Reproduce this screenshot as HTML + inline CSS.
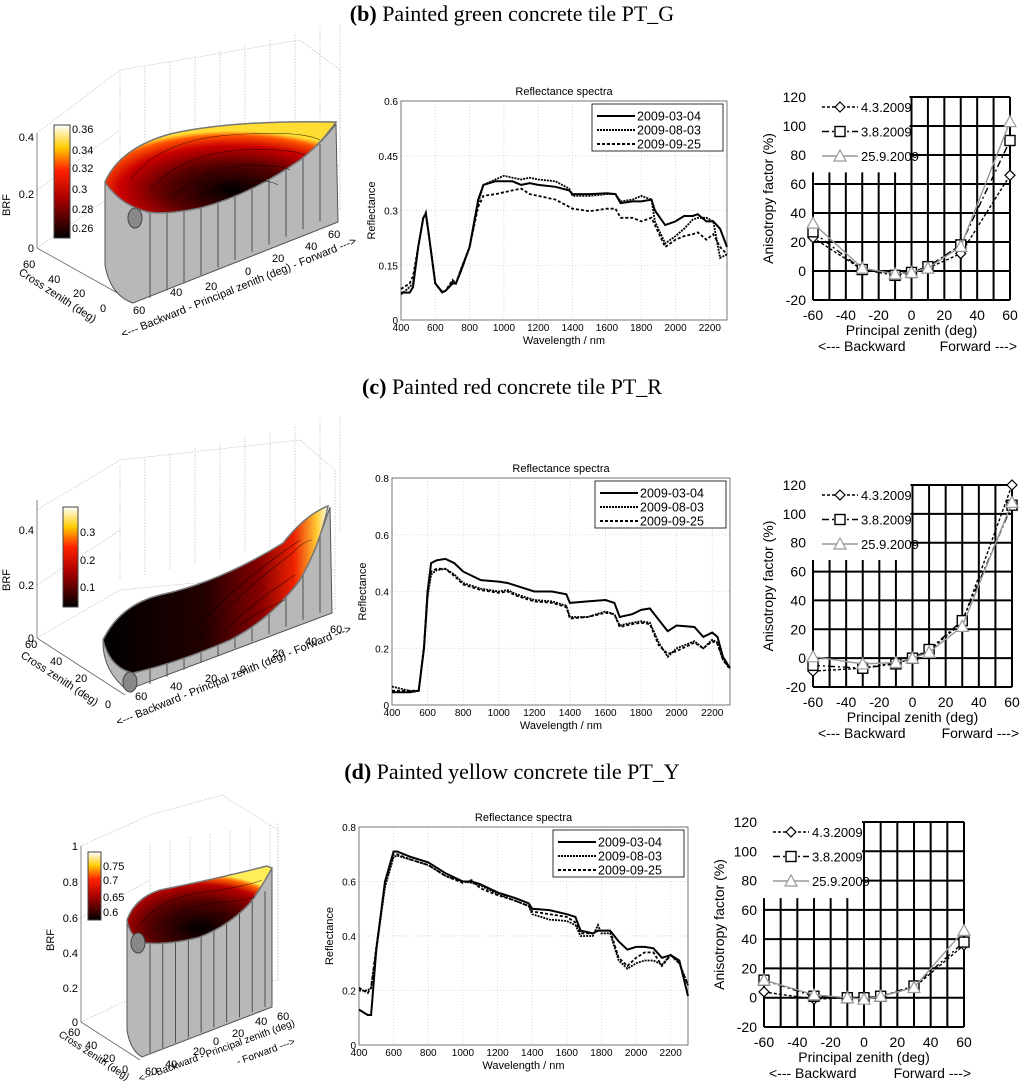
<!DOCTYPE html>
<html><head><meta charset="utf-8"><style>
body{margin:0;background:#fff;}
svg{display:block;font-family:"Liberation Sans",sans-serif;}
.ttl{font-family:"Liberation Serif",serif;font-size:22px;}
</style></head><body>
<svg id="fig" width="1024" height="1090" viewBox="0 0 1024 1090" xmlns="http://www.w3.org/2000/svg">
<defs>
<radialGradient id="gb" cx="0.55" cy="0.75" r="0.65"><stop offset="0" stop-color="#000"/><stop offset="0.45" stop-color="#5a0000"/><stop offset="0.75" stop-color="#c00"/><stop offset="0.92" stop-color="#f50"/><stop offset="1" stop-color="#fd3"/></radialGradient>
<linearGradient id="gc" x1="0" y1="0" x2="1" y2="0"><stop offset="0" stop-color="#000"/><stop offset="0.45" stop-color="#200"/><stop offset="0.7" stop-color="#800"/><stop offset="0.85" stop-color="#e20"/><stop offset="0.95" stop-color="#fc3"/><stop offset="1" stop-color="#ffe"/></linearGradient>
<radialGradient id="gd" cx="0.5" cy="0.8" r="0.7"><stop offset="0" stop-color="#000"/><stop offset="0.5" stop-color="#500"/><stop offset="0.8" stop-color="#b00"/><stop offset="0.93" stop-color="#f60"/><stop offset="1" stop-color="#fe5"/></radialGradient>
<linearGradient id="cbar" x1="0" y1="1" x2="0" y2="0"><stop offset="0" stop-color="#000"/><stop offset="0.35" stop-color="#a00"/><stop offset="0.6" stop-color="#f20"/><stop offset="0.8" stop-color="#fc0"/><stop offset="1" stop-color="#fff"/></linearGradient>
</defs>
<text class="ttl" x="512" y="21" text-anchor="middle"><tspan font-weight="bold">(b)</tspan> Painted green concrete tile PT_G</text>
<text class="ttl" x="512" y="394" text-anchor="middle"><tspan font-weight="bold">(c)</tspan> Painted red concrete tile PT_R</text>
<text class="ttl" x="512" y="779" text-anchor="middle"><tspan font-weight="bold">(d)</tspan> Painted yellow concrete tile PT_Y</text>
<g id="g3d"></g>
<g id="gspec"></g>
<g id="ganis"></g>
</svg>
<script>
// ---------- spectra data ----------
const wlB=[400,450,470,500,530,545,560,600,640,660,700,720,750,800,850,880,950,1000,1050,1100,1150,1200,1300,1380,1400,1500,1600,1650,1680,1750,1800,1860,1880,1940,2000,2050,2100,2130,2180,2220,2260,2300];
const specB1=[.075,.075,.09,.2,.28,.29,.24,.1,.077,.08,.1,.1,.135,.2,.33,.37,.38,.38,.38,.37,.375,.37,.365,.355,.345,.345,.347,.345,.32,.325,.325,.33,.3,.26,.27,.285,.285,.29,.27,.27,.25,.2];
const specB2=[.07,.09,.1,.2,.28,.295,.24,.1,.075,.08,.105,.1,.14,.2,.32,.37,.385,.395,.39,.385,.39,.385,.38,.36,.34,.34,.345,.345,.325,.33,.34,.33,.27,.21,.23,.25,.275,.28,.28,.27,.17,.18];
const specB3=[.085,.1,.12,.2,.28,.29,.24,.1,.075,.08,.11,.1,.14,.2,.31,.34,.345,.35,.355,.36,.345,.34,.33,.31,.305,.298,.305,.305,.28,.28,.27,.28,.26,.2,.22,.23,.235,.24,.22,.235,.2,.18];
const wlC=[400,500,550,580,600,620,650,700,750,800,900,1000,1050,1100,1200,1300,1380,1400,1500,1600,1650,1680,1750,1800,1850,1900,1950,2000,2100,2150,2200,2230,2260,2300];
const specC1=[.045,.045,.05,.2,.4,.5,.51,.515,.5,.47,.44,.435,.43,.42,.4,.4,.39,.36,.365,.37,.36,.31,.32,.335,.34,.3,.26,.28,.275,.24,.255,.24,.17,.13];
const specC2=[.065,.05,.05,.2,.38,.46,.475,.48,.46,.43,.41,.4,.405,.39,.37,.365,.35,.31,.31,.33,.32,.28,.29,.295,.29,.22,.17,.2,.225,.2,.23,.22,.16,.13];
const specC3=[.05,.05,.05,.21,.4,.47,.48,.48,.455,.425,.405,.395,.4,.385,.365,.36,.345,.305,.31,.325,.32,.275,.285,.29,.285,.21,.18,.19,.22,.2,.225,.215,.16,.125];
const wlD=[400,450,470,500,550,600,620,700,800,900,1000,1050,1100,1200,1300,1380,1400,1500,1600,1650,1680,1750,1780,1800,1850,1900,1950,2000,2050,2100,2150,2200,2250,2300];
const specD1=[.13,.11,.11,.35,.6,.71,.71,.69,.67,.63,.6,.6,.59,.56,.54,.52,.5,.495,.48,.47,.42,.41,.42,.42,.42,.38,.35,.36,.36,.355,.32,.33,.31,.18];
const specD2=[.2,.2,.21,.35,.58,.69,.695,.68,.66,.62,.6,.595,.585,.555,.53,.51,.48,.46,.455,.44,.4,.4,.44,.41,.41,.31,.28,.3,.31,.31,.295,.33,.3,.22];
const specD3=[.21,.19,.21,.36,.59,.7,.7,.68,.66,.62,.595,.605,.575,.55,.53,.51,.49,.48,.47,.45,.41,.41,.42,.42,.42,.32,.29,.32,.34,.34,.29,.33,.3,.22];
const specLegend=["2009-03-04","2009-08-03","2009-09-25"];
const wlTicks=[400,600,800,1000,1200,1400,1600,1800,2000,2200];
const yTicksB=[0,0.15,0.3,0.45,0.6];
const yTicksC=[0,0.2,0.4,0.6,0.8];
// ---------- anisotropy data ----------
const zen=[-60,-30,-10,0,10,30,60];
const anB1=[23,1,-2,0,2,12,66], anB2=[27,1,-3,-1,3,18,90], anB3=[33,2,-2,-1,2,17,103];
const anC1=[-9,-7,-3,0,5,25,120], anC2=[-5,-7,-4,0,6,26,106], anC3=[1,-4,-3,0,4,22,108];
const anD1=[4,-1,0,0,1,7,36], anD2=[12,1,0,0,1,8,38], anD3=[12,2,0,-1,1,7,46];
const anLegend=["4.3.2009","3.8.2009","25.9.2009"];
const zTicks=[-60,-40,-20,0,20,40,60];
const aTicks=[-20,0,20,40,60,80,100,120];

const NS="http://www.w3.org/2000/svg";
function mk(p,tag,at,txt){const e=document.createElementNS(NS,tag);for(const k in at)e.setAttribute(k,at[k]);if(txt!=null)e.textContent=txt;p.appendChild(e);return e;}
const fmt=v=>String(+v.toFixed(2)).replace(/^0\./,'0.');

function spectrum(key,L,R,T,B,ymax,yt,wl,series){
  const g=mk(document.getElementById('gspec'),'g',{});
  
  
  const sx=w=>L+(w-400)/(2300-400)*(R-L), sy=v=>B-v/ymax*(B-T);
  mk(g,'rect',{x:L,y:T,width:R-L,height:B-T,fill:'#fff',stroke:'none'});
  wlTicks.forEach(w=>{if(w>400)mk(g,'line',{x1:sx(w),x2:sx(w),y1:T,y2:B,stroke:'#ccc','stroke-dasharray':'1,2','stroke-width':0.7});
    const t=mk(g,'text',{x:sx(w),y:B+11,'font-size':10,'text-anchor':'middle'},w);
    });
  yt.forEach(v=>{if(v>0&&v<ymax)mk(g,'line',{x1:L,x2:R,y1:sy(v),y2:sy(v),stroke:'#ccc','stroke-dasharray':'1,2','stroke-width':0.7});
    const t=mk(g,'text',{x:L-3,y:sy(v)+4,'font-size':10,'text-anchor':'end'},fmt(v));
    });
  mk(g,'rect',{x:L,y:T,width:R-L,height:B-T,fill:'none',stroke:'#555','stroke-width':0.8});
  const dashes=['none','2,1','3,2'];
  series.forEach((s,i)=>{let d='';wl.forEach((w,j)=>{d+=(j?'L':'M')+sx(w).toFixed(1)+' '+sy(s[j]).toFixed(1);});
    const p=mk(g,'path',{d:d,fill:'none',stroke:'#000','stroke-width':i==0?2:1.8,'stroke-dasharray':dashes[i]});
    });
  const t1=mk(g,'text',{x:(L+R)/2,y:T-6,'font-size':11,'text-anchor':'middle'},'Reflectance spectra');
  
  const t2=mk(g,'text',{x:(L+R)/2,y:B+24,'font-size':11,'text-anchor':'middle'},'Wavelength / nm');
  
  const t3=mk(g,'text',{x:0,y:0,'font-size':11,'text-anchor':'middle',transform:`translate(${L-26},${(T+B)/2}) rotate(-90)`},'Reflectance');
  
  const lg=mk(g,'g',{});
  mk(lg,'rect',{x:R-135,y:T+3,width:131,height:47,fill:'#fff',stroke:'#000','stroke-width':0.8});
  specLegend.forEach((n,i)=>{const y=T+15+i*14;
    mk(lg,'line',{x1:R-130,x2:R-92,y1:y,y2:y,stroke:'#000','stroke-width':2,'stroke-dasharray':dashes[i]});
    const t=mk(lg,'text',{x:R-90,y:y+4.5,'font-size':12.5},n);});
}
spectrum('b',401,727,101,320,0.6,yTicksB,wlB,[specB1,specB2,specB3]);
spectrum('c',392,730,478,705,0.8,yTicksC,wlC,[specC1,specC2,specC3]);
spectrum('d',359,688,827,1045,0.8,yTicksC,wlD,[specD1,specD2,specD3]);

function anis(key,L,R,T,B,series){
  const g=mk(document.getElementById('ganis'),'g',{});
  
  
  const sx=z=>L+(z+60)/120*(R-L), sy=v=>B-(v+20)/140*(B-T);
  for(let z=-60;z<=60;z+=10)mk(g,'line',{x1:sx(z),x2:sx(z),y1:T,y2:B,stroke:'#000','stroke-width':2});
  for(let v=-20;v<=120;v+=20)mk(g,'line',{x1:L,x2:R,y1:sy(v),y2:sy(v),stroke:'#000','stroke-width':2});
  mk(g,'rect',{x:L-3,y:T-4,width:sx(0)-2-L+3,height:sy(68)-T+4,fill:'#fff'});
  zTicks.forEach(z=>{const t=mk(g,'text',{x:sx(z),y:B+20,'font-size':14,'text-anchor':'middle'},z);});
  aTicks.forEach(v=>{const t=mk(g,'text',{x:L-7,y:sy(v)+5,'font-size':14,'text-anchor':'end'},v);});
  const st=[{c:'#000',d:'3,2'},{c:'#000',d:'7,3,2,3'},{c:'#999',d:'none'}];
  function marker(p,i,x,y){
    if(i==0)return mk(p,'path',{d:`M${x} ${y-5}L${x+5} ${y}L${x} ${y+5}L${x-5} ${y}Z`,fill:'#fff',stroke:'#000','stroke-width':1.2});
    if(i==1)return mk(p,'rect',{x:x-5,y:y-5,width:10,height:10,fill:'#fff',stroke:'#000','stroke-width':1.4});
    return mk(p,'path',{d:`M${x} ${y-6}L${x+6} ${y+5}L${x-6} ${y+5}Z`,fill:'#fff',stroke:'#999','stroke-width':1.2});
  }
  series.forEach((s,i)=>{let d='';zen.forEach((z,j)=>{d+=(j?'L':'M')+sx(z).toFixed(1)+' '+sy(s[j]).toFixed(1);});
    const p=mk(g,'path',{d:d,fill:'none',stroke:st[i].c,'stroke-width':1.4,'stroke-dasharray':st[i].d});
    
    zen.forEach((z,j)=>{const m=marker(g,i,sx(z),sy(s[j]));});});
  const lg=mk(g,'g',{});
  anLegend.forEach((n,i)=>{const y=T+10+i*24.5;
    mk(lg,'line',{x1:L+9,x2:L+45,y1:y,y2:y,stroke:st[i].c,'stroke-width':1.4,'stroke-dasharray':st[i].d});
    marker(lg,i,L+27,y);
    const t=mk(lg,'text',{x:L+48,y:y+5,'font-size':13},n);});
  const a=mk(g,'text',{x:(L+R)/2,y:B+35,'font-size':14,'text-anchor':'middle'},'Principal zenith (deg)');
  const b1=mk(g,'text',{x:sx(-60)+5,y:B+51,'font-size':14},'<--- Backward');
  const b2=mk(g,'text',{x:sx(60)+7,y:B+51,'font-size':14,'text-anchor':'end'},'Forward --->');
  const y=mk(g,'text',{x:0,y:0,'font-size':14,'text-anchor':'middle',transform:`translate(${L-40},${(T+B)/2}) rotate(-90)`},'Anisotropy factor (%)');
}
anis('b',813,1010,97,300,[anB1,anB2,anB3]);
anis('c',813,1012,485,687,[anC1,anC2,anC3]);
anis('d',764,964,822,1027,[anD1,anD2,anD3]);

// ---------- 3D BRF plots (approximate illustrations) ----------
function plot3d(key,o){
  const g=mk(document.getElementById('g3d'),'g',{});
  
  
  o.grid.forEach(l=>mk(g,'line',{x1:l[0],y1:l[1],x2:l[2],y2:l[3],stroke:'#bbb','stroke-width':0.7,'stroke-dasharray':'1.5,1.5'}));
  o.axes.forEach(l=>mk(g,'line',{x1:l[0],y1:l[1],x2:l[2],y2:l[3],stroke:'#666','stroke-width':0.8}));
  o.brf.forEach(t=>{const e=mk(g,'text',{x:o.bx-3,y:t[1]+4,'font-size':11,'text-anchor':'end'},t[0]);});
  const br=mk(g,'text',{x:0,y:0,'font-size':11,'text-anchor':'middle',transform:`translate(${o.bx-27},${o.by}) rotate(-90)`},'BRF');
  const w=mk(g,'path',{d:o.wall,fill:'#b8b8b8',stroke:'#555','stroke-width':1});
  o.ribs.forEach(l=>mk(g,'line',{x1:l[0],y1:l[1],x2:l[2],y2:l[3],stroke:'#444','stroke-width':0.9}));
  const s=mk(g,'path',{d:o.surf,fill:o.fill,stroke:'#777','stroke-width':1.5});
  o.cont.forEach(d=>mk(g,'path',{d:d,fill:'none',stroke:'#000','stroke-width':0.6,opacity:0.7}));
  mk(g,'ellipse',{cx:o.el[0],cy:o.el[1],rx:7,ry:10,fill:'#888',stroke:'#444'});
  const cb=mk(g,'rect',{x:o.cb[0],y:o.cb[1],width:o.cb[2],height:o.cb[3],fill:'url(#cbar)',stroke:'#444'});
  o.cbt.forEach(t=>{const e=mk(g,'text',{x:o.cb[0]+o.cb[2]+2,y:t[1]+4,'font-size':11},t[0]);});
  o.txt.forEach(t=>{const e=mk(g,'text',{x:0,y:0,'font-size':t[3]||11,transform:`translate(${t[1]},${t[2]}) rotate(${t[4]||0})`},t[0]);});
}
function ribs(x0,x1,n,top,bot){const r=[];for(let i=0;i<=n;i++){const x=x0+(x1-x0)*i/n;r.push([x,top(x),x,bot(x)]);}return r;}
function gridLines(xs,yTop,yBot,slope){return xs.map(x=>[x,yTop+(x-xs[0])*slope,x,yBot+(x-xs[0])*slope]);}
plot3d('b',{
 grid:gridLines([120,145,170,195,220,245,270,295,320,340],73,200,-0.22).concat([[37,133,120,70],[120,70,300,40],[300,40,340,70],[37,190,120,130],[37,248,120,190],[120,190,340,165],[340,70,340,210]]),
 axes:[[37,133,37,248],[37,248,130,300]],
 bx:37,by:205,brf:[['0.4',137],['0.2',194],['0',248]],
 wall:'M105 182 L105 265 Q110 295 133 303 L338 222 L336 124 Q320 145 300 160 Q250 195 200 208 Q165 215 148 212 Q120 205 105 182 Z',
 ribs:ribs(150,320,10,x=>212-(x-150)*0.4,x=>298-(x-150)*0.45),
 surf:'M105 182 Q120 148 170 134 Q230 120 336 122 Q320 145 300 160 Q250 195 200 208 Q165 215 148 212 Q120 205 105 182 Z',
 fill:'url(#gb)',
 cont:['M130 180 Q160 140 230 135 Q300 130 320 140','M150 190 Q180 155 240 150 Q290 148 305 155','M170 198 Q200 170 245 165 Q280 165 290 170','M195 200 Q220 182 250 180 Q270 180 278 185'],
 el:[135,218],cb:[54,125,16,113],cbt:[['0.36',129],['0.34',150],['0.32',168],['0.3',189],['0.28',209],['0.26',228]],
 txt:[['60',23,268],['40',48,283],['20',73,297],['0',100,312],['Cross zenith (deg)',18,274,11,33],['60',133,314],['40',170,296],['20',205,290],['0',245,275],['20',272,262],['40',305,250],['60',328,238],['<--- Backward - Principal zenith (deg)  - Forward --->',123,338,11,-22]]
});
plot3d('c',{
 grid:gridLines([120,145,170,195,220,245,270,295,320,340],465,580,-0.22).concat([[37,510,120,460],[120,460,300,440],[300,440,335,470],[37,585,120,530],[37,638,120,590],[120,590,335,570],[335,470,335,610]]),
 axes:[[37,500,37,638],[37,638,125,695]],
 bx:37,by:580,brf:[['0.4',530],['0.2',585],['0',638]],
 wall:'M103 640 Q102 670 127 690 L332 613 L330 507 Q318 545 300 580 Q270 620 230 640 Q180 662 133 673 Q110 668 103 640 Z',
 ribs:ribs(150,320,10,x=>668-(x-150)*0.85,x=>684-(x-150)*0.42),
 surf:'M103 640 Q120 605 160 595 Q220 582 283 543 Q305 515 328 506 Q320 545 300 580 Q270 620 230 640 Q180 662 133 673 Q110 668 103 640 Z',
 fill:'url(#gc)',
 cont:['M200 640 Q230 600 290 555 Q305 540 312 540','M225 630 Q250 605 295 575','M240 625 Q260 610 285 600','M180 648 Q220 595 300 540'],
 el:[130,682],cb:[63,507,15,100],cbt:[['0.3',532],['0.2',560],['0.1',587]],
 txt:[['60',25,648],['40',50,665],['20',75,682],['0',105,708],['Cross zenith (deg)',20,657,11,33],['60',135,700],['40',170,690],['20',205,682],['0',240,673],['20',272,657],['40',305,645],['60',330,633],['<--- Backward -  Principal zenith (deg)  - Forward --->',118,726,11,-22]]
});
plot3d('d',{
 grid:gridLines([150,170,190,210,230,250,270,278],843,1000,-0.15).concat([[81,846,150,815],[150,815,222,795],[222,795,278,830],[81,918,150,880],[81,1022,150,990],[150,990,278,980],[278,830,278,980]]),
 axes:[[81,846,81,1022],[81,1022,140,1060]],
 bx:81,by:940,brf:[['1',846],['0.8',882],['0.6',918],['0.4',953],['0.2',988],['0',1022]],
 wall:'M127 920 L127 1030 Q130 1050 142 1057 L272 1007 L272 868 Q260 890 250 903 Q230 925 200 937 Q170 945 145 943 Q130 938 127 920 Z',
 ribs:ribs(150,265,9,x=>943-(x-150)*0.45,x=>1053-(x-150)*0.4),
 surf:'M127 920 Q135 898 160 890 Q220 878 267 866 L272 868 Q260 890 250 903 Q230 925 200 937 Q170 945 145 943 Q130 938 127 920 Z',
 fill:'url(#gd)',
 cont:['M140 925 Q160 895 220 890 Q250 885 262 880','M155 932 Q175 905 225 902 Q245 900 255 897','M170 938 Q190 915 230 913'],
 el:[138,943],cb:[88,852,13,68],cbt:[['0.75',866],['0.7',880],['0.65',897],['0.6',912]],
 txt:[['60',68,1036],['40',85,1049],['20',103,1062],['0',122,1073],['Cross zenith (deg)',58,1036,10,33],['60',145,1075],['40',165,1068],['20',193,1055],['0',213,1045],['20',232,1037],['40',255,1025],['60',277,1020],['<--- Backward -  Principal zenith (deg)',140,1082,10,-20],['- Forward --->',238,1065,10,-20]]
});
</script>
</body></html>
